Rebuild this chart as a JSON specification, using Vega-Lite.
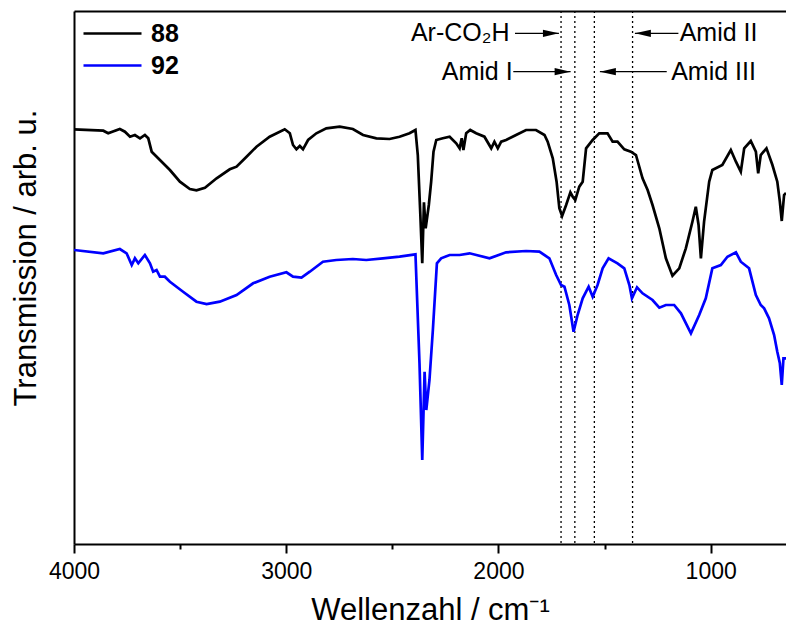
{
  "$schema": "https://vega.github.io/schema/vega-lite/v6.json",
  "width": 712,
  "height": 533,
  "autosize": {"type": "none"},
  "padding": {"left": 74, "top": 11, "right": 0, "bottom": 81},
  "background": "white",
  "config": {
    "font": "Liberation Sans",
    "view": {"stroke": null},
    "axis": {"grid": false, "domainColor": "#000000", "tickColor": "#000000", "labelColor": "#000000", "titleColor": "#000000", "domainWidth": 2, "tickWidth": 2, "titleFontWeight": "normal"}
  },
  "datasets": {
    "spectra": [
      {"s": "88", "wn": 4000, "t": 415.7}, {"s": "88", "wn": 3862, "t": 414.3}, {"s": "88", "wn": 3839, "t": 411.7}, {"s": "88", "wn": 3784, "t": 416}, {"s": "88", "wn": 3760, "t": 413.3}, {"s": "88", "wn": 3736, "t": 408.3}, {"s": "88", "wn": 3713, "t": 410}, {"s": "88", "wn": 3689, "t": 406.7}, {"s": "88", "wn": 3666, "t": 410}, {"s": "88", "wn": 3650, "t": 406.7}, {"s": "88", "wn": 3634, "t": 393.3}, {"s": "88", "wn": 3595, "t": 385}, {"s": "88", "wn": 3548, "t": 375}, {"s": "88", "wn": 3501, "t": 363.3}, {"s": "88", "wn": 3454, "t": 356}, {"s": "88", "wn": 3423, "t": 354.7}, {"s": "88", "wn": 3383, "t": 357.3}, {"s": "88", "wn": 3328, "t": 366.7}, {"s": "88", "wn": 3266, "t": 375.7}, {"s": "88", "wn": 3234, "t": 378.3}, {"s": "88", "wn": 3187, "t": 388.3}, {"s": "88", "wn": 3140, "t": 398.3}, {"s": "88", "wn": 3078, "t": 408.3}, {"s": "88", "wn": 3007, "t": 415.7}, {"s": "88", "wn": 2983, "t": 411.7}, {"s": "88", "wn": 2968, "t": 400}, {"s": "88", "wn": 2952, "t": 395.7}, {"s": "88", "wn": 2936, "t": 399}, {"s": "88", "wn": 2921, "t": 395.7}, {"s": "88", "wn": 2897, "t": 405}, {"s": "88", "wn": 2858, "t": 411.7}, {"s": "88", "wn": 2811, "t": 416.7}, {"s": "88", "wn": 2748, "t": 418.3}, {"s": "88", "wn": 2686, "t": 416}, {"s": "88", "wn": 2638, "t": 410}, {"s": "88", "wn": 2575, "t": 406.7}, {"s": "88", "wn": 2513, "t": 406}, {"s": "88", "wn": 2466, "t": 408.3}, {"s": "88", "wn": 2419, "t": 411.7}, {"s": "88", "wn": 2391, "t": 415}, {"s": "88", "wn": 2380, "t": 390}, {"s": "88", "wn": 2368, "t": 330}, {"s": "88", "wn": 2359, "t": 281.7}, {"s": "88", "wn": 2351, "t": 342.7}, {"s": "88", "wn": 2343, "t": 316.7}, {"s": "88", "wn": 2328, "t": 340}, {"s": "88", "wn": 2317, "t": 363.3}, {"s": "88", "wn": 2306, "t": 393.3}, {"s": "88", "wn": 2293, "t": 405}, {"s": "88", "wn": 2262, "t": 406.7}, {"s": "88", "wn": 2230, "t": 408.3}, {"s": "88", "wn": 2199, "t": 401.7}, {"s": "88", "wn": 2183, "t": 396.7}, {"s": "88", "wn": 2173, "t": 406.7}, {"s": "88", "wn": 2165, "t": 395}, {"s": "88", "wn": 2152, "t": 411.7}, {"s": "88", "wn": 2133, "t": 415}, {"s": "88", "wn": 2105, "t": 411.7}, {"s": "88", "wn": 2066, "t": 408.3}, {"s": "88", "wn": 2034, "t": 396.7}, {"s": "88", "wn": 2019, "t": 403.3}, {"s": "88", "wn": 2003, "t": 396.7}, {"s": "88", "wn": 1987, "t": 403.3}, {"s": "88", "wn": 1964, "t": 405}, {"s": "88", "wn": 1917, "t": 410}, {"s": "88", "wn": 1870, "t": 415}, {"s": "88", "wn": 1823, "t": 415}, {"s": "88", "wn": 1783, "t": 410}, {"s": "88", "wn": 1768, "t": 403.3}, {"s": "88", "wn": 1744, "t": 386.7}, {"s": "88", "wn": 1726, "t": 363.3}, {"s": "88", "wn": 1713, "t": 336.7}, {"s": "88", "wn": 1700, "t": 329}, {"s": "88", "wn": 1681, "t": 340}, {"s": "88", "wn": 1661, "t": 352.7}, {"s": "88", "wn": 1650, "t": 348.3}, {"s": "88", "wn": 1638, "t": 345}, {"s": "88", "wn": 1619, "t": 358.3}, {"s": "88", "wn": 1603, "t": 363.3}, {"s": "88", "wn": 1587, "t": 396.7}, {"s": "88", "wn": 1556, "t": 405}, {"s": "88", "wn": 1525, "t": 411.7}, {"s": "88", "wn": 1486, "t": 411.7}, {"s": "88", "wn": 1462, "t": 403.3}, {"s": "88", "wn": 1439, "t": 403.3}, {"s": "88", "wn": 1407, "t": 395.7}, {"s": "88", "wn": 1376, "t": 393.3}, {"s": "88", "wn": 1352, "t": 390}, {"s": "88", "wn": 1321, "t": 366.7}, {"s": "88", "wn": 1297, "t": 355}, {"s": "88", "wn": 1274, "t": 340}, {"s": "88", "wn": 1242, "t": 316.7}, {"s": "88", "wn": 1211, "t": 286.7}, {"s": "88", "wn": 1180, "t": 269.3}, {"s": "88", "wn": 1148, "t": 276.7}, {"s": "88", "wn": 1117, "t": 296.7}, {"s": "88", "wn": 1086, "t": 323.3}, {"s": "88", "wn": 1070, "t": 338.3}, {"s": "88", "wn": 1057, "t": 320}, {"s": "88", "wn": 1046, "t": 286.7}, {"s": "88", "wn": 1031, "t": 323.3}, {"s": "88", "wn": 1007, "t": 363.3}, {"s": "88", "wn": 992, "t": 375}, {"s": "88", "wn": 945, "t": 380}, {"s": "88", "wn": 905, "t": 395}, {"s": "88", "wn": 881, "t": 383.3}, {"s": "88", "wn": 858, "t": 373.3}, {"s": "88", "wn": 842, "t": 396.7}, {"s": "88", "wn": 811, "t": 404}, {"s": "88", "wn": 787, "t": 393.3}, {"s": "88", "wn": 776, "t": 371.7}, {"s": "88", "wn": 764, "t": 390}, {"s": "88", "wn": 737, "t": 396.7}, {"s": "88", "wn": 709, "t": 380}, {"s": "88", "wn": 686, "t": 363.3}, {"s": "88", "wn": 674, "t": 343.3}, {"s": "88", "wn": 665, "t": 324}, {"s": "88", "wn": 654, "t": 350}, {"s": "88", "wn": 645, "t": 352},
      {"s": "92", "wn": 4000, "t": 295}, {"s": "92", "wn": 3862, "t": 291.7}, {"s": "92", "wn": 3784, "t": 296}, {"s": "92", "wn": 3752, "t": 291.7}, {"s": "92", "wn": 3728, "t": 280}, {"s": "92", "wn": 3713, "t": 286.7}, {"s": "92", "wn": 3697, "t": 281.7}, {"s": "92", "wn": 3666, "t": 290}, {"s": "92", "wn": 3642, "t": 281.7}, {"s": "92", "wn": 3627, "t": 273.3}, {"s": "92", "wn": 3611, "t": 275}, {"s": "92", "wn": 3595, "t": 268.3}, {"s": "92", "wn": 3572, "t": 268.3}, {"s": "92", "wn": 3548, "t": 263.3}, {"s": "92", "wn": 3486, "t": 253.3}, {"s": "92", "wn": 3423, "t": 243.3}, {"s": "92", "wn": 3375, "t": 241}, {"s": "92", "wn": 3313, "t": 243.3}, {"s": "92", "wn": 3234, "t": 250}, {"s": "92", "wn": 3156, "t": 261.7}, {"s": "92", "wn": 3078, "t": 268.3}, {"s": "92", "wn": 2999, "t": 272.7}, {"s": "92", "wn": 2968, "t": 268.3}, {"s": "92", "wn": 2928, "t": 267.3}, {"s": "92", "wn": 2889, "t": 273.3}, {"s": "92", "wn": 2827, "t": 283.3}, {"s": "92", "wn": 2764, "t": 285}, {"s": "92", "wn": 2686, "t": 286}, {"s": "92", "wn": 2623, "t": 285}, {"s": "92", "wn": 2544, "t": 286.7}, {"s": "92", "wn": 2466, "t": 288.3}, {"s": "92", "wn": 2391, "t": 290.7}, {"s": "92", "wn": 2372, "t": 181.7}, {"s": "92", "wn": 2359, "t": 85}, {"s": "92", "wn": 2348, "t": 173.3}, {"s": "92", "wn": 2340, "t": 135}, {"s": "92", "wn": 2325, "t": 165}, {"s": "92", "wn": 2309, "t": 215}, {"s": "92", "wn": 2290, "t": 281.7}, {"s": "92", "wn": 2270, "t": 286.7}, {"s": "92", "wn": 2230, "t": 290}, {"s": "92", "wn": 2183, "t": 290}, {"s": "92", "wn": 2136, "t": 291.7}, {"s": "92", "wn": 2042, "t": 286.7}, {"s": "92", "wn": 1964, "t": 292.7}, {"s": "92", "wn": 1870, "t": 294}, {"s": "92", "wn": 1807, "t": 293.3}, {"s": "92", "wn": 1760, "t": 286.7}, {"s": "92", "wn": 1728, "t": 270}, {"s": "92", "wn": 1705, "t": 260}, {"s": "92", "wn": 1689, "t": 258.3}, {"s": "92", "wn": 1666, "t": 240}, {"s": "92", "wn": 1646, "t": 213.3}, {"s": "92", "wn": 1627, "t": 230}, {"s": "92", "wn": 1603, "t": 246.7}, {"s": "92", "wn": 1575, "t": 258.3}, {"s": "92", "wn": 1556, "t": 248.3}, {"s": "92", "wn": 1533, "t": 260}, {"s": "92", "wn": 1509, "t": 276.7}, {"s": "92", "wn": 1481, "t": 286.7}, {"s": "92", "wn": 1439, "t": 281.7}, {"s": "92", "wn": 1407, "t": 276.7}, {"s": "92", "wn": 1383, "t": 260}, {"s": "92", "wn": 1371, "t": 246.7}, {"s": "92", "wn": 1347, "t": 257.7}, {"s": "92", "wn": 1321, "t": 251.7}, {"s": "92", "wn": 1274, "t": 245}, {"s": "92", "wn": 1242, "t": 237.3}, {"s": "92", "wn": 1211, "t": 240}, {"s": "92", "wn": 1172, "t": 240}, {"s": "92", "wn": 1140, "t": 231.7}, {"s": "92", "wn": 1093, "t": 211.7}, {"s": "92", "wn": 1054, "t": 230}, {"s": "92", "wn": 1023, "t": 246.7}, {"s": "92", "wn": 992, "t": 276.7}, {"s": "92", "wn": 952, "t": 280}, {"s": "92", "wn": 921, "t": 288.3}, {"s": "92", "wn": 881, "t": 292.7}, {"s": "92", "wn": 858, "t": 283.3}, {"s": "92", "wn": 819, "t": 276.7}, {"s": "92", "wn": 787, "t": 250}, {"s": "92", "wn": 764, "t": 240}, {"s": "92", "wn": 748, "t": 236.7}, {"s": "92", "wn": 725, "t": 226.7}, {"s": "92", "wn": 701, "t": 210}, {"s": "92", "wn": 686, "t": 193.3}, {"s": "92", "wn": 674, "t": 181.7}, {"s": "92", "wn": 665, "t": 160}, {"s": "92", "wn": 657, "t": 186.7}, {"s": "92", "wn": 645, "t": 186.7}
    ],
    "markers": [{"wn": 1705}, {"wn": 1640}, {"wn": 1548}, {"wn": 1368}],
    "arrows": [
      {"from": 1922, "to": 1715, "t": 511.7, "dir": "right"},
      {"from": 1930, "to": 1660, "t": 473.3, "dir": "right"},
      {"from": 1152, "to": 1357, "t": 511.7, "dir": "left"},
      {"from": 1207, "to": 1522, "t": 473.3, "dir": "left"}
    ],
    "labelsRight": [
      {"label": "Ar-CO₂H", "wn": 1948, "t": 511.7},
      {"label": "Amid I", "wn": 1933, "t": 473.3}
    ],
    "labelsLeft": [
      {"label": "Amid II", "wn": 1146, "t": 511.7},
      {"label": "Amid III", "wn": 1186, "t": 473.3}
    ]
  },
  "layer": [
    {
      "data": {"name": "markers"},
      "mark": {"type": "rule", "color": "#000000", "strokeWidth": 1.3, "strokeDash": [2, 3]},
      "encoding": {
        "x": {"field": "wn", "type": "quantitative", "scale": {"domain": [4000, 645], "nice": false, "zero": false},
          "axis": {"orient": "top", "labels": false, "ticks": false, "title": null, "domainWidth": 2}}
      }
    },
    {
      "data": {"name": "spectra"},
      "mark": {"type": "line", "strokeWidth": 2.7, "clip": true},
      "encoding": {
        "x": {"field": "wn", "type": "quantitative", "scale": {"domain": [4000, 645], "nice": false, "zero": false},
          "axis": {
            "values": [4000, 3500, 3000, 2500, 2000, 1500, 1000],
            "format": "d",
            "labelExpr": "datum.value % 1000 === 0 ? datum.label : ''",
            "tickSize": {"condition": {"test": "datum.value % 1000 === 0", "value": 9}, "value": 5},
            "labelFontSize": 23,
            "labelBaseline": "alphabetic",
            "labelPadding": 25,
            "labelFlush": false,
            "labelOverlap": false,
            "title": "Wellenzahl / cm⁻¹",
            "titleFontSize": 31,
            "titleBaseline": "alphabetic",
            "titleY": 75
          }},
        "y": {"field": "t", "type": "quantitative", "scale": {"domain": [1, 534], "nice": false, "zero": false},
          "axis": {"title": "Transmission / arb. u.", "ticks": false, "labels": false, "titleFontSize": 31, "titleBaseline": "alphabetic", "titleX": -39, "titleY": 246.5}},
        "color": {"field": "s", "type": "nominal",
          "scale": {"domain": ["88", "92"], "range": ["#000000", "#0000ff"]},
          "legend": {"orient": "none", "legendX": 8, "legendY": 10, "title": null, "symbolType": "stroke", "symbolSize": 3364, "symbolStrokeWidth": 2.5, "labelFontSize": 25, "labelFontWeight": "bold", "labelColor": "#000000", "labelOffset": 8, "rowPadding": 6, "clipHeight": 25, "padding": 0}}
      }
    },
    {
      "data": {"name": "arrows"},
      "mark": {"type": "rule", "color": "#000000", "strokeWidth": 1.3},
      "encoding": {
        "x": {"field": "from", "type": "quantitative", "axis": null},
        "x2": {"field": "to"},
        "y": {"field": "t", "type": "quantitative", "axis": null}
      }
    },
    {
      "data": {"name": "arrows"},
      "mark": {"type": "point", "filled": true, "color": "#000000", "opacity": 1, "size": 256, "strokeWidth": 0},
      "encoding": {
        "x": {"field": "to", "type": "quantitative", "axis": null},
        "y": {"field": "t", "type": "quantitative", "axis": null},
        "shape": {"field": "dir", "type": "nominal", "legend": null,
          "scale": {"domain": ["right", "left"], "range": ["M0,0L-2,-0.45L-2,0.45Z", "M0,0L2,-0.45L2,0.45Z"]}}
      }
    },
    {
      "data": {"name": "labelsRight"},
      "mark": {"type": "text", "align": "right", "baseline": "middle", "fontSize": 25, "color": "#000000"},
      "encoding": {
        "x": {"field": "wn", "type": "quantitative", "axis": null},
        "y": {"field": "t", "type": "quantitative", "axis": null},
        "text": {"field": "label"}
      }
    },
    {
      "data": {"name": "labelsLeft"},
      "mark": {"type": "text", "align": "left", "baseline": "middle", "fontSize": 25, "color": "#000000"},
      "encoding": {
        "x": {"field": "wn", "type": "quantitative", "axis": null},
        "y": {"field": "t", "type": "quantitative", "axis": null},
        "text": {"field": "label"}
      }
    }
  ],
  "resolve": {"axis": {"x": "independent", "y": "independent"}}
}
